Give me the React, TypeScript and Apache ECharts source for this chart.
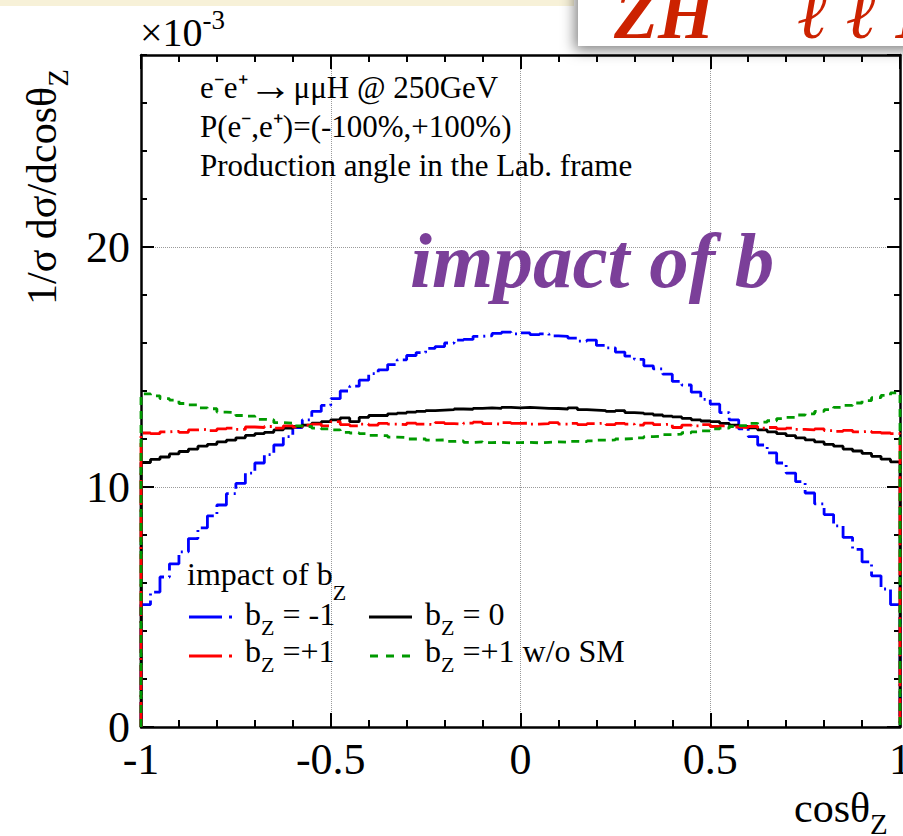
import React, { useEffect, useRef } from 'react';
import * as echarts from 'echarts';

// Histogram range and binning (80 bins of 0.025 in cos theta_Z)
const X_MIN = -1;
const X_MAX = 1;
const Y_MIN = 0;
const Y_MAX = 28;

// 1/sigma dsigma/dcos(theta_Z), in units of 1e-3, one value per bin
const BZ_M1 = [
  5.10, 5.62, 6.25, 6.80, 7.30, 7.85, 8.30, 8.80, 9.25, 9.72,
  10.15, 10.58, 11.00, 11.35, 11.75, 12.10, 12.48, 12.80, 13.15, 13.40,
  13.68, 14.00, 14.20, 14.45, 14.72, 14.88, 15.10, 15.30, 15.48, 15.60,
  15.78, 15.85, 16.00, 16.12, 16.15, 16.28, 16.30, 16.40, 16.45, 16.38,
  16.42, 16.35, 16.38, 16.30, 16.28, 16.20, 16.08, 16.12, 15.90, 15.80,
  15.62, 15.45, 15.32, 15.05, 14.92, 14.70, 14.40, 14.25, 13.95, 13.65,
  13.45, 13.10, 12.80, 12.42, 12.10, 11.75, 11.42, 11.00, 10.58, 10.22,
  9.75, 9.30, 8.85, 8.38, 7.90, 7.40, 6.88, 6.30, 5.75, 5.10,
];
const BZ_0 = [
  11.02, 11.15, 11.25, 11.38, 11.48, 11.58, 11.70, 11.78, 11.88, 11.95,
  12.05, 12.15, 12.22, 12.28, 12.38, 12.45, 12.52, 12.58, 12.66, 12.72,
  12.80, 12.88, 12.72, 12.90, 12.98, 12.98, 13.05, 13.08, 13.12, 13.15,
  13.18, 13.20, 13.22, 13.25, 13.24, 13.28, 13.30, 13.28, 13.32, 13.30,
  13.32, 13.30, 13.28, 13.27, 13.25, 13.30, 13.22, 13.20, 13.18, 13.15,
  13.18, 13.10, 13.08, 13.05, 13.00, 12.95, 12.92, 12.86, 12.80, 12.75,
  12.72, 12.65, 12.58, 12.52, 12.46, 12.38, 12.30, 12.22, 12.14, 12.05,
  11.96, 11.88, 11.78, 11.70, 11.58, 11.50, 11.40, 11.28, 11.16, 11.05,
];
const BZ_P1 = [
  12.25, 12.22, 12.30, 12.32, 12.28, 12.38, 12.40, 12.35, 12.42, 12.45,
  12.40, 12.50, 12.48, 12.52, 12.45, 12.55, 12.50, 12.58, 12.62, 12.55,
  12.72, 12.60, 12.55, 12.62, 12.58, 12.65, 12.62, 12.60, 12.66, 12.62,
  12.60, 12.68, 12.64, 12.62, 12.66, 12.70, 12.64, 12.62, 12.68, 12.65,
  12.66, 12.62, 12.64, 12.68, 12.62, 12.65, 12.60, 12.64, 12.66, 12.60,
  12.65, 12.62, 12.58, 12.66, 12.60, 12.62, 12.48, 12.58, 12.55, 12.60,
  12.52, 12.55, 12.50, 12.48, 12.52, 12.45, 12.48, 12.42, 12.45, 12.40,
  12.38, 12.42, 12.35, 12.32, 12.36, 12.30, 12.32, 12.28, 12.25, 12.22,
];
const BZ_P1_NOSM = [
  13.88, 13.80, 13.68, 13.62, 13.48, 13.42, 13.30, 13.26, 13.12, 13.10,
  12.98, 12.95, 12.82, 12.80, 12.68, 12.66, 12.55, 12.52, 12.45, 12.42,
  12.38, 12.28, 12.25, 12.22, 12.15, 12.14, 12.08, 12.06, 12.00, 12.00,
  11.95, 11.96, 11.90, 11.92, 11.86, 11.88, 11.85, 11.86, 11.84, 11.85,
  11.86, 11.84, 11.86, 11.88, 11.87, 11.90, 11.89, 11.92, 11.95, 11.96,
  12.00, 12.02, 12.05, 12.10, 12.12, 12.18, 12.20, 12.26, 12.30, 12.34,
  12.42, 12.45, 12.52, 12.56, 12.65, 12.70, 12.76, 12.85, 12.90, 13.00,
  13.05, 13.15, 13.22, 13.32, 13.40, 13.50, 13.60, 13.72, 13.82, 13.92,
];

const SERIF = '"Liberation Serif", "Times New Roman", serif';
const BLUE = '#0000ff';
const BLACK = '#000000';
const RED = '#ff0000';
const GREEN = '#009900';
const PURPLE = '#7b3f99';
const DASH_DOT = [25, 5, 2, 5];
const DASHED = [8, 6];
const LINE_W = 2.8;

// Histogram outline: rise from zero at the low edge, flat top per bin, drop at the high edge
function histOutline(vals: number[]): number[][] {
  const n = vals.length;
  const w = (X_MAX - X_MIN) / n;
  const pts: number[][] = [[X_MIN, 0]];
  vals.forEach((v, i) => pts.push([X_MIN + i * w, v]));
  pts.push([X_MAX, vals[n - 1]]);
  pts.push([X_MAX, 0]);
  return pts;
}

let measureCtx: CanvasRenderingContext2D | null = null;
function textWidth(t: string, size: number, fontStyle = 'normal', fontWeight = 'normal') {
  if (!measureCtx) measureCtx = document.createElement('canvas').getContext('2d');
  if (!measureCtx) return t.length * size * 0.5;
  measureCtx.font = `${fontStyle} ${fontWeight} ${size}px ${SERIF}`;
  return measureCtx.measureText(t).width;
}

type Piece = { t: string; size: number; rise?: number; dx?: number };
type RunOpts = { fill?: string; fontStyle?: string; fontWeight?: string; z?: number };

// Lays out text pieces on a shared baseline (sub/superscripts via rise)
function textRun(pieces: Piece[], x0: number, baseline: number, opts: RunOpts = {}) {
  const fill = opts.fill ?? '#000';
  const fontStyle = opts.fontStyle ?? 'normal';
  const fontWeight = opts.fontWeight ?? 'normal';
  let x = x0;
  const els: any[] = [];
  for (const p of pieces) {
    x += p.dx ?? 0;
    els.push({
      type: 'text',
      x,
      y: baseline - (p.rise ?? 0) - 0.34 * p.size,
      z: opts.z ?? 10,
      style: {
        text: p.t,
        fontSize: p.size,
        fontFamily: SERIF,
        fontStyle,
        fontWeight,
        fill,
        align: 'left',
        verticalAlign: 'middle',
        textAlign: 'left',
        textVerticalAlign: 'middle',
      },
    });
    x += textWidth(p.t, p.size, fontStyle, fontWeight);
  }
  return els;
}

function legendLine(x1: number, x2: number, y: number, color: string, dash?: number[]) {
  return {
    type: 'line',
    z: 10,
    shape: { x1, y1: y, x2, y2: y },
    style: { stroke: color, lineWidth: LINE_W, lineDash: dash ?? null },
  };
}

function buildOption() {
  const seriesDefs = [
    { name: 'bZ=-1', data: BZ_M1, color: BLUE, dash: DASH_DOT },
    { name: 'bZ=0', data: BZ_0, color: BLACK, dash: null },
    { name: 'bZ=+1', data: BZ_P1, color: RED, dash: DASH_DOT },
    { name: 'bZ=+1 w/o SM', data: BZ_P1_NOSM, color: GREEN, dash: DASHED },
  ];

  const frame = { show: true, onZero: false, lineStyle: { color: '#000', width: 2.5 } };
  const noLine = { show: false, onZero: false };
  const labelFont = { fontFamily: SERIF, fontSize: 44, color: '#000' };
  const dotted = { show: true, lineStyle: { type: 'dotted', color: '#9a9a9a', width: 1 } };

  const xMajor = (position: string, labels: boolean) => ({
    type: 'value', min: X_MIN, max: X_MAX, interval: 0.5, position,
    axisLine: frame,
    axisTick: { show: true, inside: true, length: 14, lineStyle: { color: '#000', width: 2 } },
    axisLabel: labels
      ? { show: true, margin: 10, ...labelFont, formatter: (v: number) => String(Math.round(v * 10) / 10) }
      : { show: false },
    splitLine: labels ? dotted : { show: false },
  });
  const xMinor = (position: string) => ({
    type: 'value', min: X_MIN, max: X_MAX, interval: 0.1, position,
    axisLine: noLine,
    axisTick: { show: true, inside: true, length: 7, lineStyle: { color: '#000', width: 2 } },
    axisLabel: { show: false },
    splitLine: { show: false },
  });
  const yMajor = (position: string, labels: boolean) => ({
    type: 'value', min: Y_MIN, max: Y_MAX, interval: 10, position,
    axisLine: frame,
    axisTick: { show: true, inside: true, length: 13, lineStyle: { color: '#000', width: 2 } },
    axisLabel: labels ? { show: true, margin: 11, showMaxLabel: false, ...labelFont } : { show: false },
    splitLine: labels ? dotted : { show: false },
  });
  const yMinor = (position: string) => ({
    type: 'value', min: Y_MIN, max: Y_MAX, interval: 2, position,
    axisLine: noLine,
    axisTick: { show: true, inside: true, length: 6, lineStyle: { color: '#000', width: 2 } },
    axisLabel: { show: false },
    splitLine: { show: false },
  });

  const graphics: any[] = [
    // slide band and overlapping title box
    { type: 'rect', z: 1, shape: { x: 0, y: 0, width: 574, height: 6 }, style: { fill: '#f7f1d8' } },
    {
      type: 'rect', z: 100, shape: { x: 578, y: -20, width: 340, height: 66 },
      style: { fill: '#ffffff', shadowBlur: 14, shadowColor: 'rgba(0,0,0,0.5)', shadowOffsetX: -3, shadowOffsetY: 4 },
    },
    ...textRun(
      [
        { t: 'ZH', size: 72 },
        { t: '→', size: 72, rise: 50, dx: 10 },
        { t: 'ℓ ℓ H', size: 72, dx: 2 },
      ],
      614, 38, { fill: '#cc2200', fontStyle: 'italic', fontWeight: 'bold', z: 101 },
    ),
    // exponent
    ...textRun([{ t: '×10', size: 40 }, { t: '-3', size: 27, rise: 17 }], 140, 46),
    // y title, rotated
    {
      type: 'group', x: 56, y: 305, rotation: Math.PI / 2,
      children: textRun([{ t: '1/σ dσ/dcosθ', size: 42 }, { t: 'Z', size: 29, rise: -12 }], 0, 0),
    },
    // x title
    ...textRun([{ t: 'cosθ', size: 42 }, { t: 'Z', size: 29, rise: -12 }], 794, 822),
    // process description
    ...textRun(
      [
        { t: 'e⁻e⁺', size: 31 },
        { t: '→', size: 44, rise: -2, dx: 1 },
        { t: 'μμH @ 250GeV', size: 31, dx: 1 },
      ],
      200, 98,
    ),
    ...textRun([{ t: 'P(e⁻,e⁺)=(-100%,+100%)', size: 31 }], 200, 137),
    ...textRun([{ t: 'Production angle in the Lab. frame', size: 31 }], 200, 176),
    // headline
    ...textRun([{ t: 'impact of b', size: 79 }], 410, 287, { fill: PURPLE, fontStyle: 'italic', fontWeight: 'bold' }),
    // legend
    ...textRun([{ t: 'impact of b', size: 32 }, { t: 'Z', size: 22, rise: -15 }], 187, 585),
    legendLine(189, 236, 617, BLUE, [33, 7, 3, 10]),
    ...textRun([{ t: 'b', size: 32 }, { t: 'Z', size: 22, rise: -10 }, { t: '= -1', size: 32, dx: 8 }], 245, 625),
    legendLine(369, 412, 617, BLACK),
    ...textRun([{ t: 'b', size: 32 }, { t: 'Z', size: 22, rise: -10 }, { t: '= 0', size: 32, dx: 8 }], 425, 625),
    legendLine(189, 236, 656, RED, [33, 7, 3, 10]),
    ...textRun([{ t: 'b', size: 32 }, { t: 'Z', size: 22, rise: -10 }, { t: '=+1', size: 32, dx: 8 }], 245, 662),
    legendLine(370, 412, 656, GREEN, [8, 8]),
    ...textRun([{ t: 'b', size: 32 }, { t: 'Z', size: 22, rise: -10 }, { t: '=+1 w/o SM', size: 32, dx: 8 }], 425, 662),
  ];

  return {
    animation: false,
    backgroundColor: '#ffffff',
    grid: { left: 141, right: 3, top: 55, bottom: 109, containLabel: false, outerBoundsMode: 'none' },
    xAxis: [xMajor('bottom', true), xMinor('bottom'), xMajor('top', false), xMinor('top')],
    yAxis: [yMajor('left', true), yMinor('left'), yMajor('right', false), yMinor('right')],
    series: seriesDefs.map((s) => ({
      type: 'line',
      name: s.name,
      xAxisIndex: 0,
      yAxisIndex: 0,
      step: 'end',
      symbol: 'none',
      clip: false,
      data: histOutline(s.data),
      lineStyle: { color: s.color, width: LINE_W, type: s.dash ?? 'solid', cap: 'butt' },
      itemStyle: { color: s.color },
    })),
    graphic: { elements: graphics },
  };
}

export default function App() {
  const ref = useRef<HTMLDivElement>(null);
  useEffect(() => {
    document.body.style.margin = '0';
    if (!ref.current) return;
    const chart = echarts.init(ref.current, undefined, { renderer: 'svg' });
    chart.setOption(buildOption() as any);
    return () => chart.dispose();
  }, []);
  return <div ref={ref} style={{ width: 903, height: 836 }} />;
}
